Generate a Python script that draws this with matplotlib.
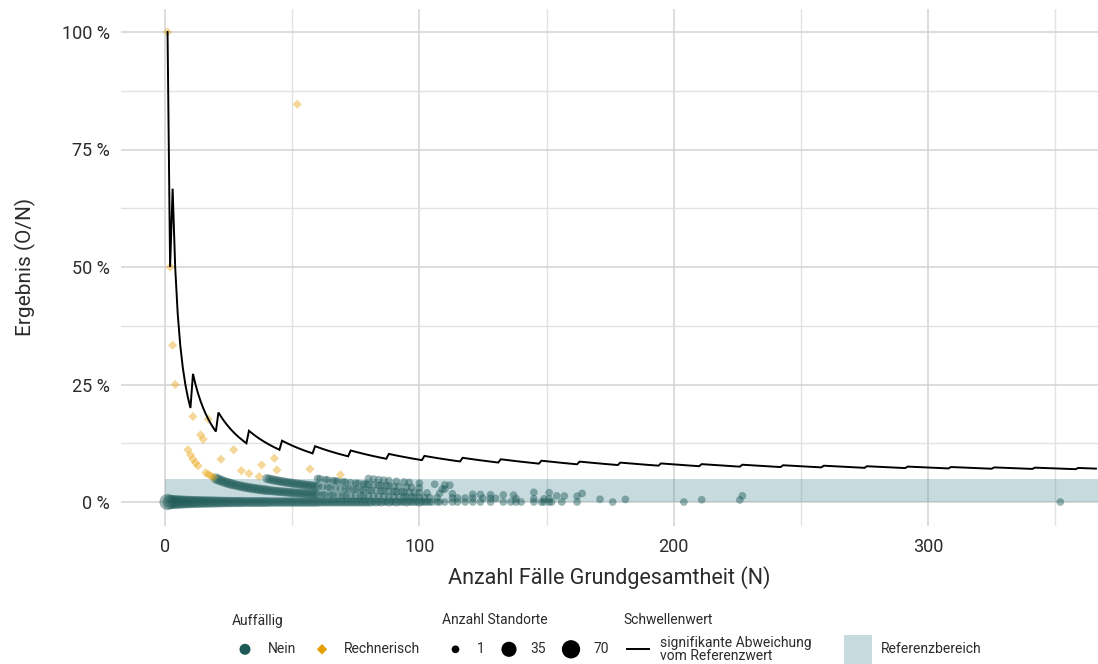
import numpy as np
import matplotlib
matplotlib.use("Agg")
import matplotlib.pyplot as plt
from matplotlib.lines import Line2D
from matplotlib.patches import Rectangle

plt.rcParams['font.family'] = ['Roboto', 'DejaVu Sans']

# ---------------- data ----------------
# Threshold ("signifikante Abweichung vom Referenzwert"): critical count k starts at N
schwelle_start_n = [1, 3, 11, 21, 33, 46, 59, 73, 88, 102, 117, 132, 148, 163, 179,
                    195, 211, 227, 243, 259, 276, 292, 309, 326, 342, 359]
schwelle_k = [1, 2, 3, 4, 5, 6, 7, 8, 9, 10, 11, 12, 13, 14, 15,
              16, 17, 18, 19, 20, 21, 22, 23, 24, 25, 26]
schwelle_max_n = 366

ref_lo, ref_hi = 0.0, 0.05

# Auffaellig = Nein (counts O per case number N, with number of sites)
n_o0 = list(range(1, 106)) + [107, 108, 110, 113, 115, 118, 121, 124, 128, 133, 136, 138,
                               140, 145, 148, 149, 151, 152, 156, 162, 176, 204, 352]
sites_o0 = ([45, 30, 26, 24, 22, 20, 18, 16, 15, 14,
             13, 12, 12, 11, 10, 10, 9, 9, 8, 8,
             7, 7, 6, 6, 6, 5, 5, 5, 5, 5]
            + [4] * 10 + [3] * 20 + [2] * 20
            + [2, 1, 2, 1, 2, 1, 1, 2, 1, 1, 2, 1, 1, 1, 2, 1, 1, 1, 1, 2, 1, 1, 1, 1, 1]
            + [1] * 23)

n_o1 = (list(range(20, 61))
        + [62, 63, 65, 66, 68, 70, 71, 73, 75, 77, 78, 80, 82, 84, 86, 88, 90, 92,
           94, 95, 97, 98, 100, 102, 104, 107, 113, 115, 118, 121,
           125, 128, 130, 138, 145, 149, 151, 171, 181, 211, 226])
sites_o1 = ([5, 5, 4, 4, 4, 4, 4, 3, 3, 3, 3] + [3] * 10 + [2] * 20
            + [1] * 18 + [1] * 23)

n_o2 = (list(range(40, 61))
        + [62, 64, 65, 67, 69, 71, 72, 74, 75, 77, 78, 80, 81, 83, 85, 86, 88, 90, 91, 93, 94,
           96, 98, 100, 103, 108, 113, 121, 124, 128, 133, 137, 154, 157, 162])
sites_o2 = [2] * 21 + [1] * 35

n_o3 = [60, 61, 63, 64, 66, 67, 68, 70, 71, 73, 75, 76, 78, 79, 80, 82, 84,
        85, 87, 88, 90, 92, 95, 97, 100, 109, 110, 145, 151, 164, 227]
sites_o3 = [1] * 31

n_o4 = [80, 82, 84, 86, 88, 91, 94, 96, 100, 106, 110, 112]
sites_o4 = [1] * 12

# Auffaellig = Rechnerisch
rech_n = [1, 2, 3, 4, 9, 10, 11, 12, 13, 16, 17, 18, 19,
          11, 14, 15, 22, 30, 33, 37, 17, 27, 38, 44, 43, 57, 69, 52]
rech_o = [1, 1, 1, 1, 1, 1, 1, 1, 1, 1, 1, 1, 1,
          2, 2, 2, 2, 2, 2, 2, 3, 3, 3, 3, 4, 4, 4, 44]

legend_sizes = [1, 35, 70]

# ---------------- styling ----------------
TEAL = '#1D5A57'
ORANGE = '#E69F00'
BAND = '#488A94'
TXT = '#2b2b2b'


def size_pts2(v):
    v = np.asarray(v, dtype=float)
    d_px = 7.7 + (18.3 - 7.7) * np.sqrt((v - 1) / 69.0)
    return (0.72 * d_px) ** 2


fig = plt.figure(figsize=(10.98, 6.64), dpi=100)
W, H = 1098, 664
ax = fig.add_axes([121 / W, 1 - 525.5 / H, (W - 121) / W, (525.5 - 8.5) / H])
ax.set_xlim(-17.3, 366.8)
ax.set_ylim(-0.05, 1.05)

ax.set_xticks([0, 100, 200, 300])
ax.set_xticks([50, 150, 250, 350], minor=True)
ax.set_yticks([0, 0.25, 0.5, 0.75, 1.0])
ax.set_yticks([0.125, 0.375, 0.625, 0.875], minor=True)
ax.set_yticklabels(['0 %', '25 %', '50 %', '75 %', '100 %'])
ax.grid(True, which='major', color='#d3d3d3', lw=1.1)
ax.grid(True, which='minor', color='#e2e2e2', lw=1.0)
ax.set_axisbelow(True)
for s in ax.spines.values():
    s.set_visible(False)
ax.tick_params(which='both', length=0)
ax.tick_params(axis='y', pad=8, labelsize=13, labelcolor=TXT)
ax.tick_params(axis='x', pad=9, labelsize=13, labelcolor=TXT)

# reference band
ax.add_patch(Rectangle((0, ref_lo), 380, ref_hi - ref_lo, facecolor=BAND, alpha=0.3,
                       edgecolor='none', zorder=1))

# Nein points
for n_list, o, sites in [(n_o0, 0, sites_o0), (n_o1, 1, sites_o1), (n_o2, 2, sites_o2),
                         (n_o3, 3, sites_o3), (n_o4, 4, sites_o4)]:
    n_arr = np.array(n_list, dtype=float)
    ax.scatter(n_arr, o / n_arr, s=size_pts2(sites), color=TEAL, alpha=0.45,
               edgecolors='none', zorder=3)

# Rechnerisch points
rn = np.array(rech_n, dtype=float)
ro = np.array(rech_o, dtype=float)
ax.scatter(rn, ro / rn, s=22, marker='D', color=ORANGE, alpha=0.4,
           edgecolors='none', zorder=4)

# threshold line
line_n, line_y = [], []
bounds = schwelle_start_n + [schwelle_max_n + 1]
for i, k in enumerate(schwelle_k):
    for n in range(bounds[i], bounds[i + 1]):
        line_n.append(n)
        line_y.append(k / n)
ax.plot(line_n, line_y, color='black', lw=1.4, zorder=5, solid_joinstyle='miter')

ax.set_xlabel('Anzahl Fälle Grundgesamtheit (N)', fontsize=15.5, color=TXT, labelpad=7)
ax.set_ylabel('Ergebnis (O/N)', fontsize=15, color=TXT, labelpad=19)

# ---------------- legend (pixel coords) ----------------
lax = fig.add_axes([0, 0, 1, 1], zorder=10)
lax.set_xlim(0, W)
lax.set_ylim(H, 0)
lax.axis('off')
LFS = 10
ty, iy = 620.5, 649.3
lax.text(232, ty, 'Auffällig', fontsize=LFS, color=TXT, va='center', ha='left')
lax.scatter([245], [iy], s=(0.72 * 11) ** 2, color=TEAL, edgecolors='none')
lax.text(268, iy, 'Nein', fontsize=LFS, color=TXT, va='center', ha='left')
lax.scatter([322], [iy], s=(0.72 * 10.5 / 1.414) ** 2, marker='D', color=ORANGE, edgecolors='none')
lax.text(344, iy, 'Rechnerisch', fontsize=LFS, color=TXT, va='center', ha='left')

lax.text(442, ty, 'Anzahl Standorte', fontsize=LFS, color=TXT, va='center', ha='left')
for xk, xl, v in zip([455.5, 509, 571], [477, 530, 593], legend_sizes):
    lax.scatter([xk], [iy], s=size_pts2([v]), color='black', edgecolors='none')
    lax.text(xl, iy, str(v), fontsize=LFS, color=TXT, va='center', ha='left')

lax.text(623, ty, 'Schwellenwert', fontsize=LFS, color=TXT, va='center', ha='left')
lax.add_line(Line2D([627, 649], [iy, iy], color='black', lw=1.4))
lax.text(660, iy, 'signifikante Abweichung\nvom Referenzwert', fontsize=LFS, color=TXT,
         va='center', ha='left', linespacing=0.95)

lax.add_patch(Rectangle((844, 635), 28, 29, facecolor=BAND, alpha=0.3, edgecolor='none'))
lax.text(881, iy, 'Referenzbereich', fontsize=LFS, color=TXT, va='center', ha='left')

fig.savefig('out.png', dpi=100)
